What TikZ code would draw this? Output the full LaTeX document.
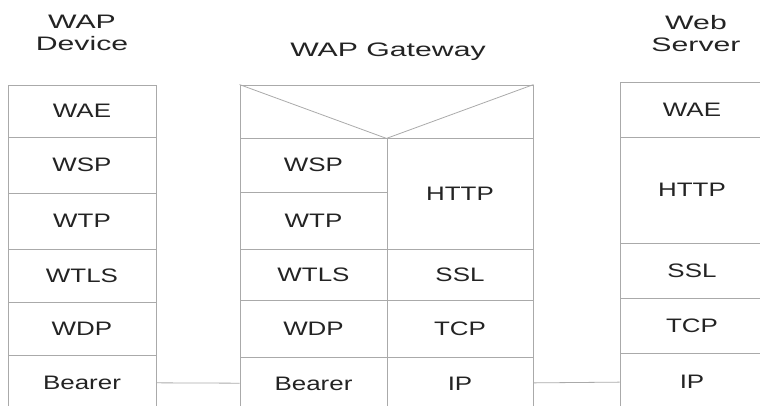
\documentclass[tikz,border=0pt]{standalone}
\usepackage{fontspec}
\usepackage{tikz}
\usepackage{xcolor}
\usetikzlibrary{positioning,calc}
\newfontfamily\cellfont{Liberation Sans}[FakeStretch=1.33]
\newfontfamily\headfont{Liberation Sans}[FakeStretch=1.55]
\definecolor{wapline}{RGB}{170,170,170}
\definecolor{wapink}{RGB}{35,35,35}
\tikzset{
  layer/.style={rectangle, draw=wapline, line width=0.8pt, inner sep=0pt,
                align=center, text=wapink,
                font=\cellfont\fontsize{19.5}{22}\selectfont},
  title/.style={inner sep=0pt, align=center, text=wapink,
                font=\headfont\fontsize{19.5}{22}\selectfont},
  link/.style={draw=wapline, line width=0.8pt}
}

\begin{document}
\begin{tikzpicture}[x=1pt, y=-1pt]
\path[use as bounding box] (0,0) rectangle (760,405);
\clip (0,0) rectangle (760,405);

% titles
\node[title] (tdev) at (82,32.5) {WAP\\Device};
\node[title, anchor=base] (tgw) at (388,56) {WAP Gateway};
\node[title] (tsrv) at (696,34) {Web\\Server};

% WAP device stack
\node[layer, minimum width=148pt, minimum height=52pt] (dwae)    at (82,111)   {WAE};
\node[layer, minimum width=148pt, minimum height=56pt] (dwsp)    at (82,165)   {WSP};
\node[layer, minimum width=148pt, minimum height=56pt] (dwtp)    at (82,221)   {WTP};
\node[layer, minimum width=148pt, minimum height=53pt] (dwtls)   at (82,275.5) {WTLS};
\node[layer, minimum width=148pt, minimum height=53pt] (dwdp)    at (82,328.5) {WDP};
\node[layer, minimum width=148pt, minimum height=55pt] (dbearer) at (82,382.5) {Bearer};

% WAP gateway stack
\node[layer, minimum width=293pt, minimum height=53pt] (gtop) at (386.5,111.5) {};
\draw[link] (gtop.north west) -- (gtop.south) -- (gtop.north east);
\node[layer, minimum width=147pt, minimum height=54pt] (gwsp)    at (313.5,165)   {WSP};
\node[layer, minimum width=147pt, minimum height=57pt] (gwtp)    at (313.5,220.5) {WTP};
\node[layer, minimum width=147pt, minimum height=51pt] (gwtls)   at (313.5,274.5) {WTLS};
\node[layer, minimum width=147pt, minimum height=57pt] (gwdp)    at (313.5,328.5) {WDP};
\node[layer, minimum width=147pt, minimum height=53pt] (gbearer) at (313.5,383.5) {Bearer};
\node[layer, minimum width=146pt, minimum height=111pt] (ghttp) at (460,193.5) {HTTP};
\node[layer, minimum width=146pt, minimum height=51pt]  (gssl)  at (460,274.5) {SSL};
\node[layer, minimum width=146pt, minimum height=57pt]  (gtcp)  at (460,328.5) {TCP};
\node[layer, minimum width=146pt, minimum height=53pt]  (gip)   at (460,383.5) {IP};

% web server stack
\node[layer, minimum width=144pt, minimum height=55pt]  (swae)  at (692,109.5) {WAE};
\node[layer, minimum width=144pt, minimum height=106pt] (shttp) at (692,190)   {HTTP};
\node[layer, minimum width=144pt, minimum height=55pt]  (sssl)  at (692,270.5) {SSL};
\node[layer, minimum width=144pt, minimum height=55pt]  (stcp)  at (692,325.5) {TCP};
\node[layer, minimum width=144pt, minimum height=57pt]  (sip)   at (692,381.5) {IP};

% links between bottom layers
\draw[link] (dbearer) -- (gbearer);
\draw[link] (gip) -- (sip);
\end{tikzpicture}
\end{document}
